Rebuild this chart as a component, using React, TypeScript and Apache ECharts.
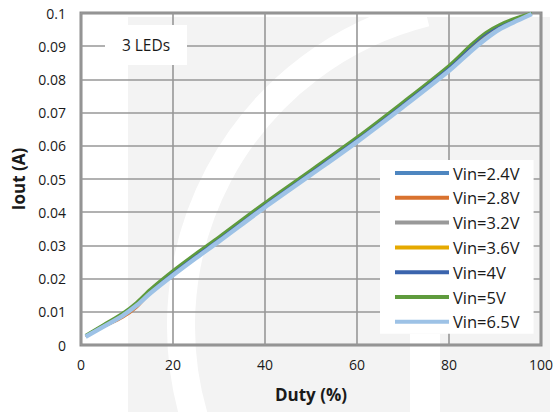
import React, { useEffect, useRef } from "react";
import * as echarts from "echarts";

// Duty-cycle sample points (%) shared by every curve
const duty = [1, 5, 9, 12, 15, 20, 25, 30, 40, 50, 60, 70, 80, 85, 88, 91, 95, 98];

// Output current (A) for each input voltage
const iout24 = [0.0027, 0.006, 0.0092, 0.0123, 0.0162, 0.0219, 0.0271, 0.0321, 0.0424, 0.0522, 0.0621, 0.0727, 0.0837, 0.0901, 0.0935, 0.096, 0.0984, 0.0998];
const iout28 = [0.0026, 0.0055, 0.0082, 0.0112, 0.0156, 0.0218, 0.027, 0.0321, 0.0424, 0.0522, 0.0622, 0.0728, 0.0839, 0.0904, 0.0938, 0.0963, 0.0986, 0.0999];
const iout32 = [0.0027, 0.006, 0.0092, 0.0122, 0.0161, 0.0218, 0.027, 0.032, 0.0423, 0.0521, 0.062, 0.0726, 0.0836, 0.09, 0.0934, 0.0959, 0.0983, 0.0998];
const iout36 = [0.0027, 0.006, 0.0092, 0.0123, 0.0162, 0.0219, 0.0271, 0.0321, 0.0424, 0.0522, 0.0621, 0.0727, 0.0837, 0.0902, 0.0936, 0.0961, 0.0984, 0.0998];
const iout40 = [0.0028, 0.0061, 0.0093, 0.0124, 0.0163, 0.022, 0.0272, 0.0322, 0.0425, 0.0523, 0.0622, 0.0728, 0.0838, 0.0903, 0.0937, 0.0962, 0.0985, 0.0999];
const iout50 = [0.003, 0.0063, 0.0096, 0.0128, 0.0168, 0.0225, 0.0277, 0.0327, 0.043, 0.0528, 0.0627, 0.0733, 0.0843, 0.0908, 0.0942, 0.0966, 0.0988, 0.1];
const iout65 = [0.0025, 0.0056, 0.0088, 0.0118, 0.0155, 0.021, 0.0262, 0.0312, 0.0415, 0.0513, 0.0612, 0.0717, 0.0826, 0.0888, 0.0922, 0.0951, 0.0978, 0.0997];

const seriesNames = ["Vin=2.4V", "Vin=2.8V", "Vin=3.2V", "Vin=3.6V", "Vin=4V", "Vin=5V", "Vin=6.5V"];
const seriesValues = [iout24, iout28, iout32, iout36, iout40, iout50, iout65];
const seriesColors = ["#4e86c0", "#d9722f", "#999999", "#e5a900", "#3b64ad", "#5f9b3d", "#9dc2e6"];

const FONT = "Open Sans";
const INK = "#1a1a1a";

export default function App() {
  const ref = useRef<HTMLDivElement>(null);

  useEffect(() => {
    if (!ref.current) return;
    const chart = echarts.init(ref.current, undefined, { renderer: "svg" });

    const series = seriesNames.map((name, i) => ({
      name,
      type: "line",
      data: duty.map((d, k) => [d, seriesValues[i][k]]),
      smooth: 0.3,
      symbol: "none",
      lineStyle: { color: seriesColors[i], width: i === 6 ? 4.5 : 2.5 },
      itemStyle: { color: seriesColors[i] },
      z: 10 + i,
    }));

    chart.setOption({
      animation: false,
      backgroundColor: "#ffffff",
      textStyle: { fontFamily: FONT },
      graphic: [
        // faint background logo
        { type: "rect", z: -20, silent: true, shape: { x: 128, y: 17, width: 422, height: 395 }, style: { fill: "#f3f3f3" } },
        {
          type: "arc",
          z: -19,
          silent: true,
          shape: { cx: 504, cy: 326, r: 323, startAngle: (160 * Math.PI) / 180, endAngle: (256 * Math.PI) / 180, clockwise: true },
          style: { stroke: "#ffffff", lineWidth: 28, fill: null },
        },
        { type: "rect", z: -19, silent: true, shape: { x: 410, y: 334, width: 30, height: 78 }, style: { fill: "#ffffff" } },
        // annotation box
        { type: "rect", z: 30, shape: { x: 105, y: 25, width: 82, height: 40 }, style: { fill: "#ffffff" } },
        {
          type: "text",
          z: 31,
          x: 146,
          y: 45,
          style: { text: "3 LEDs", fontFamily: FONT, fontSize: 15.5, fill: INK, align: "center", verticalAlign: "middle" },
        },
      ],
      grid: { left: 81, right: 16, top: 13, bottom: 67, show: true, borderColor: "#8c8c8c", borderWidth: 3 },
      legend: {
        orient: "vertical",
        left: 380,
        top: 160,
        data: seriesNames,
        icon: "rect",
        itemWidth: 54,
        itemHeight: 4,
        itemGap: 4.8,
        padding: [3, 14, 2, 15],
        backgroundColor: "#ffffff",
        textStyle: { fontFamily: FONT, fontSize: 16.5, color: INK, lineHeight: 20, padding: [0, 0, 0, -1] },
        z: 40,
      },
      xAxis: {
        type: "value",
        min: 0,
        max: 100,
        interval: 20,
        name: "Duty (%)",
        nameLocation: "middle",
        nameGap: 41,
        nameTextStyle: { fontFamily: FONT, fontSize: 17, fontWeight: "bold", color: INK },
        axisLine: { show: false },
        axisTick: { show: false },
        axisLabel: { margin: 12, fontFamily: FONT, fontSize: 14, color: INK },
        splitLine: { show: true, lineStyle: { color: "#979797", width: 1.6 } },
      },
      yAxis: {
        type: "value",
        min: 0,
        max: 0.1,
        interval: 0.01,
        name: "Iout (A)",
        nameLocation: "middle",
        nameGap: 53,
        nameTextStyle: { fontFamily: FONT, fontSize: 17, fontWeight: "bold", color: INK },
        axisLine: { show: false },
        axisTick: { show: false },
        axisLabel: { margin: 15, fontFamily: FONT, fontSize: 14, color: INK },
        splitLine: { show: true, lineStyle: { color: "#979797", width: 1.6 } },
      },
      series,
    });

    return () => chart.dispose();
  }, []);

  return <div ref={ref} style={{ position: "fixed", left: 0, top: 0, width: 557, height: 412 }} />;
}
